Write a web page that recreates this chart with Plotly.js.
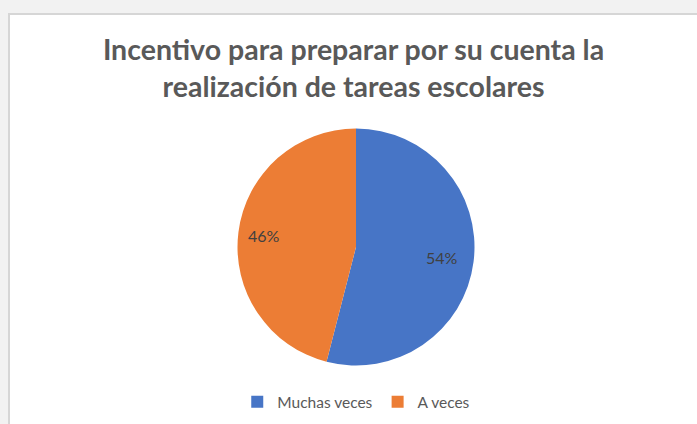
<!DOCTYPE html>
<html>
<head>
<meta charset="utf-8">
<script src="https://cdn.plot.ly/plotly-3.0.1.min.js"></script>
<style>
html,body{margin:0;padding:0;background:#f2f2f2;width:697px;height:424px;overflow:hidden;}
#chart{position:absolute;left:8px;top:13px;width:689px;height:411px;border-left:2px solid #d6d6d6;border-top:2px solid #d6d6d6;box-sizing:border-box;background:#fff;}
</style>
</head>
<body>
<div id="chart"></div>
<script>
const categories = ["Muchas veces", "A veces"];
const values = [54, 46];
const colors = ["#4775C6", "#EC7D35"];
const titleText = "Incentivo para preparar por su cuenta la<br>realización de tareas escolares";

const W = 687, H = 409;
const cx = 346, cy = 232, R = 118.5;
const dom = {
  x: [(cx - R) / W, (cx + R) / W],
  y: [(H - cy - R) / H, (H - cy + R) / H]
};

// label positions computed from the data (mid-angle of each slice, clockwise from 12 o'clock)
const total = values.reduce((a, b) => a + b, 0);
const labelR = [0.73, 0.78];
let cum = 0;
const annotations = values.map((v, i) => {
  const mid = (cum + v / 2) / total * 2 * Math.PI;
  cum += v;
  const px = cx + Math.sin(mid) * R * labelR[i];
  const py = cy - Math.cos(mid) * R * labelR[i];
  return {
    x: px / W, y: 1 - py / H, xref: "paper", yref: "paper",
    text: Math.round(v / total * 100) + "%", showarrow: false,
    font: {family: "Lato, 'Open Sans', sans-serif", size: 16, color: "#404040"}
  };
});

const data = [{
  type: "pie",
  labels: categories,
  values: values,
  sort: false,
  direction: "clockwise",
  rotation: 0,
  textinfo: "none",
  hoverinfo: "label+percent",
  marker: {colors: colors, line: {width: 0}},
  domain: dom
}];

const layout = {
  width: W, height: H,
  margin: {l: 0, r: 0, t: 0, b: 0},
  paper_bgcolor: "#ffffff",
  title: {
    text: "<b>" + titleText + "</b>",
    font: {family: "Lato, 'Open Sans', sans-serif", size: 28.5, color: "#595959", lineposition: "none"},
    x: 0.5, xanchor: "center", y: 0.89, yanchor: "top", yref: "container"
  },
  showlegend: true,
  legend: {
    orientation: "h", x: 0.504, xanchor: "center", y: 0.012, yanchor: "bottom",
    font: {family: "Lato, 'Open Sans', sans-serif", size: 15.5, color: "#595959"},
    itemwidth: 30, traceorder: "normal"
  },
  annotations: annotations
};

Plotly.newPlot("chart", data, layout, {displayModeBar: false, staticPlot: true});
</script>
</body>
</html>
